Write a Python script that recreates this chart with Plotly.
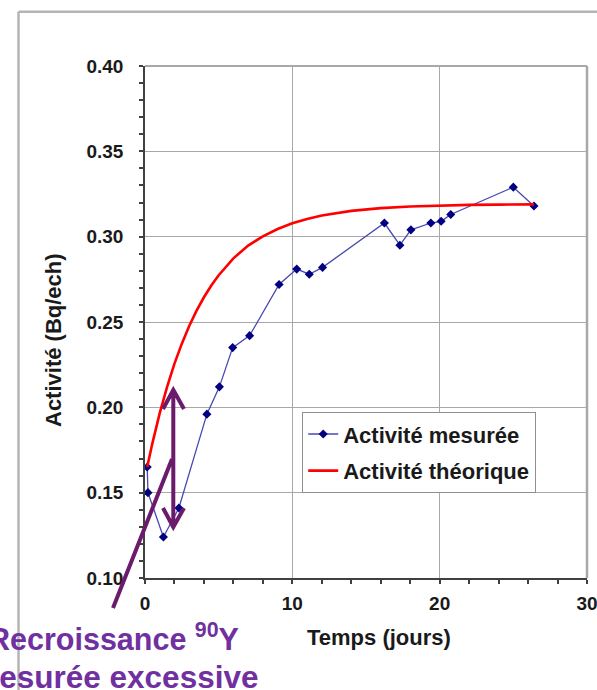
import plotly.graph_objects as go

# ---- data ----
t_mesuree = [0.15, 0.2, 1.25, 2.3, 4.2, 5.05, 5.95, 7.1, 9.1, 10.3, 11.15, 12.05,
             16.25, 17.3, 18.05, 19.4, 20.1, 20.75, 25.0, 26.4]
a_mesuree = [0.165, 0.150, 0.124, 0.141, 0.196, 0.212, 0.235, 0.242, 0.272, 0.281,
             0.278, 0.282, 0.308, 0.295, 0.304, 0.308, 0.309, 0.313, 0.329, 0.318]

t_theorique = [0.15, 0.5, 1, 1.5, 2, 2.5, 3, 3.5, 4, 4.5, 5, 6, 7, 8, 9, 10, 11, 12,
               14, 16, 18, 20, 22, 24, 26.4]
a_theorique = [0.165, 0.1789, 0.1966, 0.2120, 0.2256, 0.2373, 0.2477, 0.2567, 0.2645,
               0.2714, 0.2774, 0.2873, 0.2948, 0.3002, 0.3045, 0.3078, 0.3104, 0.3124,
               0.3151, 0.3167, 0.3177, 0.3183, 0.3186, 0.3188, 0.3189]

x_ticks = [0, 10, 20, 30]
y_ticks = [0.10, 0.15, 0.20, 0.25, 0.30, 0.35, 0.40]

# ---- layout geometry (pixels) ----
W, H = 597, 690
L, R, T, B = 145, 10, 66, 112
PW, PH = W - L - R, H - T - B


def px(x):
    return (x - L) / PW


def py(y):
    return (H - B - y) / PH


FONT = "Liberation Sans, Arial, sans-serif"
ARROW = "#6b1b6b"
TEXTP = "#7030a0"

fig = go.Figure()
fig.add_trace(go.Scatter(
    x=t_mesuree, y=a_mesuree, mode="lines+markers", name="Activité mesurée",
    legendgroup="a",
    line=dict(color="#4848b4", width=1.3),
    marker=dict(symbol="diamond", size=7, color="#000080"),
))
fig.add_trace(go.Scatter(
    x=t_theorique, y=a_theorique, mode="lines", name="Activité théorique",
    legendgroup="b",
    line=dict(color="#ff0000", width=2.6),
))

axis_common = dict(
    showline=True, linecolor="#404040", linewidth=1.5,
    ticks="outside", ticklen=4, tickcolor="#404040", tickwidth=1.5,
    showgrid=True, gridcolor="#a8a8a8", gridwidth=1.2,
    zeroline=False,
    tickfont=dict(family=FONT, size=19, color="#1a1a1a", weight="bold"),
)

fig.update_xaxes(range=[0, 30], tickvals=x_ticks, ticklabelstandoff=3,
                 ticklabeloverflow="allow",
                 minor=dict(dtick=2, ticks="outside", ticklen=4, tickcolor="#404040",
                            showgrid=False),
                 **axis_common)
fig.update_yaxes(range=[0.10, 0.40], tickvals=y_ticks, tickformat=".2f",
                 ticklabelstandoff=12, ticklabeloverflow="allow",
                 minor=dict(dtick=0.01, ticks="outside", ticklen=4, tickcolor="#404040",
                            showgrid=False),
                 **axis_common)

shapes = [
    # top / right plot border
    dict(type="line", xref="paper", yref="paper", x0=0, x1=1, y0=1, y1=1,
         line=dict(color="#a8a8a8", width=2)),
    dict(type="line", xref="paper", yref="paper", x0=1, x1=1, y0=0, y1=1,
         line=dict(color="#a8a8a8", width=2.5)),
    # outer frame (left & top)
    dict(type="line", xref="paper", yref="paper", x0=px(18.5), x1=px(18.5),
         y0=py(11.7), y1=py(H + 5), line=dict(color="#b4b4b4", width=2.5)),
    dict(type="line", xref="paper", yref="paper", x0=px(18.5), x1=px(W + 5),
         y0=py(11.7), y1=py(11.7), line=dict(color="#b4b4b4", width=2.5)),
]

# purple double arrow and pointer line
ax = 173.3
path = (f"M {px(ax)},{py(390)} L {px(ax)},{py(527)} "
        f"M {px(163)},{py(409)} L {px(ax)},{py(390)} L {px(184)},{py(409)} "
        f"M {px(163)},{py(508)} L {px(ax)},{py(527)} L {px(184)},{py(508)} "
        f"M {px(113)},{py(608)} L {px(172)},{py(459)}")
shapes.append(dict(type="path", xref="paper", yref="paper", path=path,
                   line=dict(color=ARROW, width=4)))

annotations = [
    dict(text="Activité (Bq/ech)", xref="paper", yref="paper", x=px(53), y=py(340),
         textangle=-90, showarrow=False, xanchor="center", yanchor="middle",
         font=dict(family=FONT, size=22, color="#1a1a1a", weight="bold")),
    dict(text="Temps (jours)", xref="paper", yref="paper", x=px(379), y=py(637),
         showarrow=False, xanchor="center", yanchor="middle",
         font=dict(family=FONT, size=22, color="#1a1a1a", weight="bold")),
    dict(text="Recroissance <sup>90</sup>Y", xref="paper", yref="paper",
         x=px(241), y=py(637), showarrow=False, xanchor="right", yanchor="middle",
         font=dict(family=FONT, size=30.5, color=TEXTP, weight="bold")),
    dict(text="Mesurée excessive", xref="paper", yref="paper",
         x=px(260), y=py(677), showarrow=False, xanchor="right", yanchor="middle",
         font=dict(family=FONT, size=31.5, color=TEXTP, weight="bold")),
]

fig.update_layout(
    width=W, height=H,
    margin=dict(l=L, r=R, t=T, b=B, autoexpand=False),
    paper_bgcolor="white", plot_bgcolor="white",
    showlegend=True,
    legend=dict(x=px(302), y=py(412), xanchor="left", yanchor="top",
                bgcolor="white", bordercolor="#909090", borderwidth=1.2,
                tracegroupgap=5, traceorder="grouped",
                font=dict(family=FONT, size=22, color="#1a1a1a", weight="bold")),
    shapes=shapes,
    annotations=annotations,
)

fig.write_html("out.html", config={"displayModeBar": False})
